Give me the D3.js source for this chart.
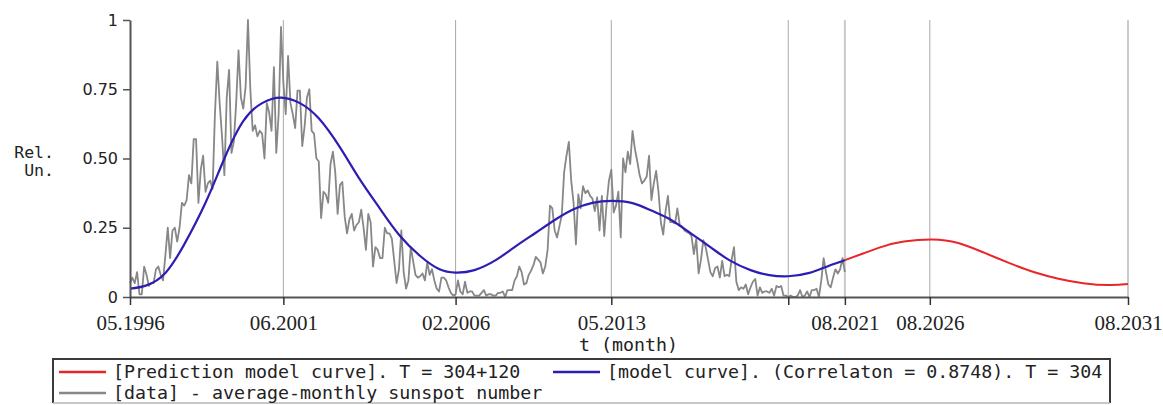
<!DOCTYPE html>
<html>
<head>
<meta charset="utf-8">
<script src="https://cdn.jsdelivr.net/npm/d3@7"></script>
<style>
  body { margin: 0; background: #fff; }
</style>
</head>
<body>
<div id="chart"></div>
<script>
// monthly sunspot data, relative units, 05.1996 .. 08.2021 (one value per month)
var sunspotData = [
  0.05, 0.07, 0.05, 0.09, 0.01, 0.01, 0.11, 0.08,                               // 1996
  0.04, 0.05, 0.05, 0.10, 0.11, 0.08, 0.06, 0.15, 0.25, 0.14, 0.24, 0.25,       // 1997
  0.20, 0.25, 0.34, 0.33, 0.35, 0.44, 0.41, 0.57, 0.57, 0.34, 0.46, 0.51,       // 1998
  0.38, 0.41, 0.42, 0.39, 0.66, 0.85, 0.70, 0.58, 0.44, 0.72, 0.82, 0.52,       // 1999
  0.56, 0.70, 0.89, 0.72, 0.68, 0.76, 1.00, 0.75, 0.60, 0.62, 0.58, 0.60,       // 2000
  0.59, 0.50, 0.70, 0.665, 0.60, 0.83, 0.52, 0.66, 0.975, 0.775, 0.66, 0.87,    // 2001
  0.70, 0.66, 0.61, 0.745, 0.745, 0.545, 0.615, 0.72, 0.75, 0.60, 0.59, 0.50,   // 2002
  0.49, 0.285, 0.38, 0.37, 0.34, 0.48, 0.525, 0.45, 0.30, 0.405, 0.415, 0.29,   // 2003
  0.23, 0.28, 0.30, 0.24, 0.26, 0.27, 0.315, 0.25, 0.17, 0.30, 0.27, 0.11,      // 2004
  0.18, 0.17, 0.14, 0.14, 0.25, 0.23, 0.23, 0.21, 0.13, 0.05, 0.10, 0.24,       // 2005
  0.09, 0.03, 0.06, 0.18, 0.13, 0.08, 0.07, 0.075, 0.085, 0.06, 0.125, 0.08,    // 2006
  0.10, 0.06, 0.03, 0.02, 0.07, 0.07, 0.06, 0.035, 0.015, 0.005, 0.01, 0.06,    // 2007
  0.02, 0.01, 0.055, 0.015, 0.02, 0.02, 0.005, 0.005, 0.005, 0.015, 0.025, 0.005, // 2008
  0.01, 0.01, 0.005, 0.005, 0.015, 0.015, 0.02, 0, 0.025, 0.025, 0.025, 0.06,   // 2009
  0.075, 0.11, 0.09, 0.045, 0.05, 0.08, 0.095, 0.115, 0.145, 0.135, 0.125, 0.085, // 2010
  0.11, 0.17, 0.33, 0.32, 0.24, 0.215, 0.255, 0.295, 0.45, 0.51, 0.56, 0.42,    // 2011
  0.34, 0.19, 0.37, 0.32, 0.40, 0.375, 0.385, 0.365, 0.355, 0.31, 0.36, 0.24,   // 2012
  0.365, 0.22, 0.335, 0.42, 0.46, 0.305, 0.33, 0.38, 0.215, 0.50, 0.45, 0.525,  // 2013
  0.48, 0.60, 0.535, 0.49, 0.44, 0.41, 0.42, 0.435, 0.51, 0.35, 0.41, 0.455,    // 2014
  0.38, 0.27, 0.225, 0.31, 0.365, 0.27, 0.27, 0.265, 0.32, 0.26, 0.255, 0.24,   // 2015
  0.235, 0.23, 0.22, 0.155, 0.21, 0.085, 0.135, 0.205, 0.18, 0.135, 0.09, 0.075, // 2016
  0.105, 0.11, 0.07, 0.13, 0.075, 0.08, 0.075, 0.135, 0.18, 0.055, 0.025, 0.035, // 2017
  0.03, 0.045, 0.01, 0.035, 0.055, 0.065, 0.005, 0.035, 0.015, 0.02, 0.02, 0.015, // 2018
  0.03, 0.005, 0.04, 0.035, 0.04, 0.005, 0.005, 0, 0.005, 0, 0, 0.005,          // 2019
  0.025, 0, 0.005, 0.02, 0, 0.025, 0.025, 0.03, 0, 0.06, 0.14, 0.09,            // 2020
  0.045, 0.035, 0.07, 0.10, 0.085, 0.10, 0.14, 0.09                             // 2021
];

// model curve (T = 304), read at these month indexes
var modelMonth = [0, 7, 15, 23, 32, 40, 48, 56, 64, 72, 80, 89, 97, 106, 114, 123, 131, 138, 146,
                  155, 163, 172, 180, 188, 196, 204, 213, 221, 229, 237, 246, 254, 263, 271, 279, 288, 296, 303];
var modelValue = [0.03, 0.042, 0.087, 0.19, 0.34, 0.50, 0.635, 0.70, 0.72, 0.70, 0.645, 0.54, 0.43, 0.318, 0.225, 0.148, 0.101, 0.088, 0.097,
                  0.133, 0.18, 0.232, 0.278, 0.317, 0.340, 0.347, 0.339, 0.312, 0.280, 0.234, 0.180, 0.133, 0.097, 0.079, 0.075, 0.087, 0.112, 0.133];

// prediction curve (T = 304+120)
var predMonth = [303, 311, 319, 328, 340, 351, 362, 372, 383, 394, 404, 415, 423];
var predValue = [0.133, 0.158, 0.182, 0.200, 0.208, 0.195, 0.160, 0.125, 0.090, 0.065, 0.050, 0.043, 0.047];

var tickMonths = [0, 65, 138, 204, 279, 303, 339, 423];
var tickLabels = ["05.1996", "06.2001", "02.2006", "05.2013", "", "08.2021", "08.2026", "08.2031"];
var yTicks = [0, 0.25, 0.5, 0.75, 1];
var yTickLabels = ["0", "0.25", "0.50", "0.75", "1"];

var legendRow1 = ["[Prediction model curve]. T = 304+120", "[model curve]. (Correlaton = 0.8748). T = 304"];
var legendRow2 = ["[data] - average-monthly sunspot number"];

var W = 1163, H = 405;
var margin = {top: 20, right: 35, bottom: 108, left: 130};
var width = W - margin.left - margin.right;   // 998
var height = H - margin.top - margin.bottom;  // 277

var x = d3.scaleLinear().domain([0, 423]).range([0, width]);
var y = d3.scaleLinear().domain([0, 1]).range([height, 0]);

var svg = d3.select("#chart").append("svg")
    .attr("width", W)
    .attr("height", H);

var g = svg.append("g")
    .attr("transform", "translate(" + margin.left + "," + margin.top + ")");

// vertical grid
g.selectAll(".grid")
    .data(tickMonths.slice(1))
  .enter().append("line")
    .attr("class", "grid")
    .attr("x1", function(d) { return x(d); })
    .attr("x2", function(d) { return x(d); })
    .attr("y1", 0)
    .attr("y2", height)
    .attr("stroke", function(d) { return (d == 303 || d == 423) ? "#cacaca" : "#a9a9a9"; })
    .attr("stroke-width", function(d) { return (d == 303 || d == 423) ? 2 : 1; });

// data
g.append("path")
    .datum(sunspotData)
    .attr("fill", "none")
    .attr("stroke", "#878787")
    .attr("stroke-width", 1.8)
    .attr("stroke-linejoin", "round")
    .attr("d", d3.line()
        .x(function(d, i) { return x(i); })
        .y(function(d) { return y(d); }));

var curve = d3.line()
    .curve(d3.curveNatural)
    .x(function(d) { return x(d[0]); })
    .y(function(d) { return y(d[1]); });

g.append("path")
    .datum(d3.zip(predMonth, predValue))
    .attr("fill", "none")
    .attr("stroke", "#e8262a")
    .attr("stroke-width", 2)
    .attr("d", curve);

g.append("path")
    .datum(d3.zip(modelMonth, modelValue))
    .attr("fill", "none")
    .attr("stroke", "#2c1db3")
    .attr("stroke-width", 2.2)
    .attr("d", curve);

// axes
var yAxis = g.append("g")
    .call(d3.axisLeft(y)
        .tickValues(yTicks)
        .tickFormat(function(d, i) { return yTickLabels[i]; })
        .tickSize(7)
        .tickSizeOuter(0)
        .tickPadding(5));
yAxis.select(".domain").attr("stroke", "#555").attr("stroke-width", 2);
yAxis.selectAll(".tick line").attr("stroke", "#555").attr("stroke-width", 1.5);
yAxis.selectAll(".tick text")
    .style("font-family", "'DejaVu Sans'")
    .style("font-size", "16px")
    .attr("fill", "#222");

var xAxis = g.append("g")
    .attr("transform", "translate(0," + height + ")")
    .call(d3.axisBottom(x)
        .tickValues(tickMonths)
        .tickFormat(function(d, i) { return tickLabels[i]; })
        .tickSize(8)
        .tickSizeOuter(0));
xAxis.select(".domain").attr("stroke", "#555").attr("stroke-width", 2);
xAxis.selectAll(".tick line").attr("stroke", "#333").attr("stroke-width", 1.5);
xAxis.selectAll(".tick text")
    .attr("y", 18)
    .style("font-family", "'Liberation Serif'")
    .style("font-size", "21px")
    .attr("fill", "#222");

// axis titles
svg.append("text")
    .attr("x", 54).attr("y", 158)
    .attr("text-anchor", "end")
    .style("font-family", "'DejaVu Sans Mono'")
    .style("font-size", "16.5px")
    .attr("fill", "#222")
    .text("Rel.");
svg.append("text")
    .attr("x", 54).attr("y", 176)
    .attr("text-anchor", "end")
    .style("font-family", "'DejaVu Sans Mono'")
    .style("font-size", "16.5px")
    .attr("fill", "#222")
    .text("Un.");
svg.append("text")
    .attr("x", 579).attr("y", 351)
    .style("font-family", "'DejaVu Sans Mono'")
    .style("font-size", "18.3px")
    .attr("fill", "#222")
    .text("t (month)");

// legend
var leg = svg.append("g");
leg.append("path")
    .attr("d", "M53,403 L53,359 L1110,359 L1110,403")
    .attr("fill", "none")
    .attr("stroke", "#3a3a3a")
    .attr("stroke-width", 2);
leg.append("line")
    .attr("x1", 53).attr("x2", 1110).attr("y1", 403).attr("y2", 403)
    .attr("stroke", "#b5b5b5").attr("stroke-width", 1.5);

var legendItems = [
  {label: legendRow1[0], color: "#e8262a", x: 59, y: 372},
  {label: legendRow1[1], color: "#2c1db3", x: 553, y: 372},
  {label: legendRow2[0], color: "#878787", x: 59, y: 393}
];
var li = leg.selectAll(".item").data(legendItems).enter().append("g");
li.append("line")
    .attr("x1", function(d) { return d.x; })
    .attr("x2", function(d) { return d.x + 47; })
    .attr("y1", function(d) { return d.y; })
    .attr("y2", function(d) { return d.y; })
    .attr("stroke", function(d) { return d.color; })
    .attr("stroke-width", 2.5);
li.append("text")
    .attr("x", function(d) { return d.x + 54; })
    .attr("y", function(d) { return d.y + 6; })
    .style("font-family", "'DejaVu Sans Mono'")
    .style("font-size", "18.3px")
    .attr("fill", "#222")
    .text(function(d) { return d.label; });
</script>
</body>
</html>
